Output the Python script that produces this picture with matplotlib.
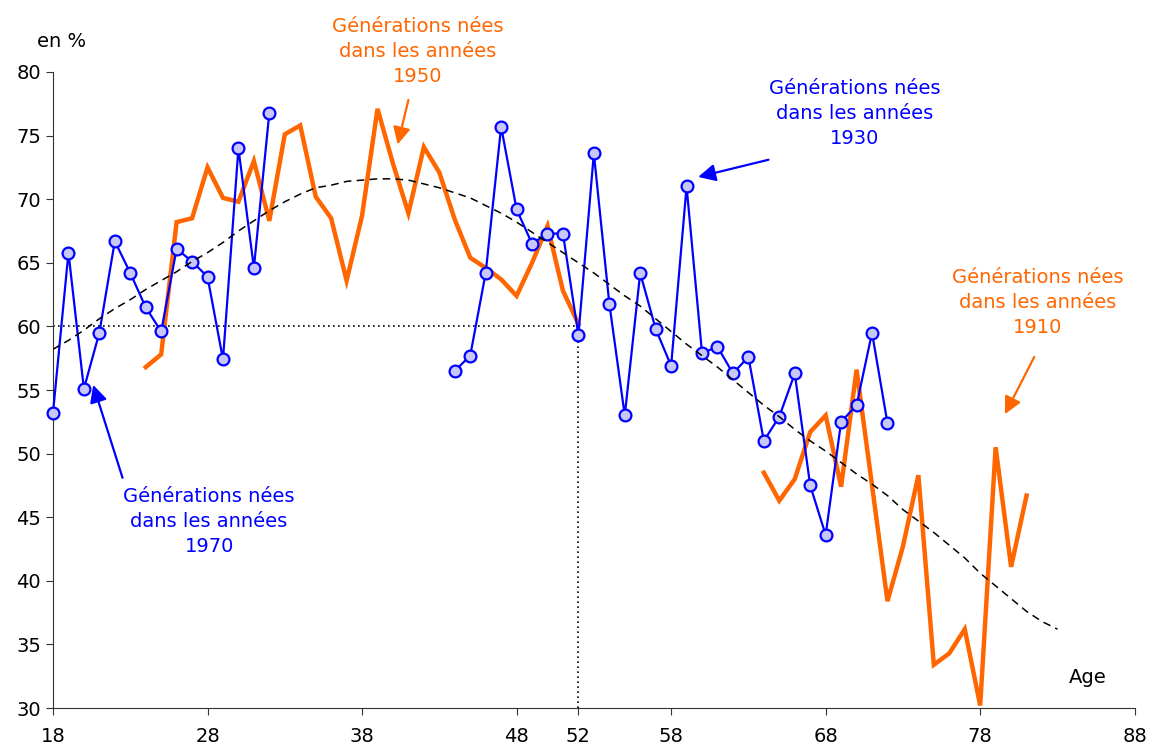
import numpy as np
import matplotlib
matplotlib.use("Agg")
import matplotlib.pyplot as plt

# ages and rates (NaN = no point)
ages = list(range(18, 84))

blue_rates = [53.2, 65.8, 55.1, 59.5, 66.7, 64.2, 61.5, 59.6, 66.1, 65.1,
              63.9, 57.4, 74.0, 64.6, 76.8,
              None, None, None, None, None, None, None, None, None, None, None,
              56.5, 57.7, 64.2, 75.7, 69.2, 66.5, 67.3, 67.3, 59.3, 73.6,
              61.8, 53.0, 64.2, 59.8, 56.9, 71.0, 57.9, 58.4, 56.3, 57.6,
              51.0, 52.9, 56.3, 47.5, 43.6, 52.5, 53.8, 59.5, 52.4]

orange_rates = [None] * 6 + [
    56.8, 57.8, 68.2, 68.5, 72.5, 70.1, 69.8, 73.0, 68.3, 75.1,
    75.8, 70.2, 68.5, 63.6, 68.7, 77.1, 72.8, 68.9, 74.1, 72.1,
    68.4, 65.4, 64.6, 63.7, 62.4, 65.0, 67.9, 62.8, 60.2,
    None, None, None, None, None, None, None, None, None, None, None,
    48.5, 46.3, 48.0, 51.7, 53.0, 47.4, 56.6, 47.5, 38.4, 42.7,
    48.3, 33.4, 34.3, 36.2, 30.2, 50.5, 41.1, 46.7]

trend = [58.2, 58.9, 59.7, 60.6, 61.4, 62.1, 62.9, 63.6, 64.3, 65.1,
         65.8, 66.6, 67.5, 68.3, 69.1, 69.8, 70.4, 70.9, 71.1, 71.4,
         71.5, 71.6, 71.6, 71.5, 71.2, 70.9, 70.5, 70.1, 69.5, 68.9,
         68.2, 67.4, 66.6, 65.8, 65.0, 64.2, 63.3, 62.4, 61.6, 60.6,
         59.6, 58.6, 57.7, 56.8, 55.8, 54.8, 53.8, 52.9, 51.9, 51.0,
         50.2, 49.3, 48.4, 47.6, 46.7, 45.6, 44.7, 43.8, 42.8, 41.8,
         40.6, 39.6, 38.6, 37.6, 36.8, 36.2]

xticks = [18, 28, 38, 48, 52, 58, 68, 78, 88]
yticks = [30, 35, 40, 45, 50, 55, 60, 65, 70, 75, 80]

BLUE = "#0000ff"
ORANGE = "#ff6600"


def pad(vals):
    vals = vals + [None] * (len(ages) - len(vals))
    return np.array([np.nan if v is None else v for v in vals], dtype=float)


fig = plt.figure(figsize=(11.52, 7.49), dpi=100)
ax = fig.add_axes([0.046, 0.0547, 0.939, 0.8492])

ax.plot(ages, pad(orange_rates), color=ORANGE, lw=3.2, zorder=2,
        solid_joinstyle="miter")
ax.plot(ages, pad(blue_rates), color=BLUE, lw=1.6, zorder=3,
        marker="o", markersize=8.5, markerfacecolor="#c8c8f8",
        markeredgecolor=BLUE, markeredgewidth=1.6, clip_on=False)
ax.plot(ages, pad(trend), color="black", lw=1.1, ls=(0, (5, 3.5)), zorder=4)

# reference lines at 60 % / 52 years
ax.plot([18, 52], [60, 60], color="black", lw=1.2, ls=(0, (1, 2)), zorder=1)
ax.plot([52, 52], [30, 60], color="black", lw=1.2, ls=(0, (1, 2)), zorder=1)

ax.set_xlim(18, 88)
ax.set_ylim(30, 80)
ax.set_xticks(xticks)
ax.set_yticks(yticks)
ax.tick_params(axis="both", labelsize=14, direction="out", length=5,
               color="#333333")
ax.tick_params(axis="x", pad=9)
for s in ["top", "right"]:
    ax.spines[s].set_visible(False)
for s in ["left", "bottom"]:
    ax.spines[s].set_color("#333333")

txt = "Générations nées\ndans les années\n"
labels = [
    ("1970", BLUE, (28.1, 44.7), (22.5, 48.1), (20.6, 55.4)),
    ("1950", ORANGE, (41.6, 81.6), (41.0, 77.8), (40.3, 74.3)),
    ("1930", BLUE, (69.9, 76.7), (64.3, 73.1), (59.75, 71.75)),
    ("1910", ORANGE, (81.7, 61.9), (81.5, 57.6), (79.6, 53.1)),
]
for year, col, tpos, tail, head in labels:
    ax.text(tpos[0], tpos[1], txt + year, color=col, fontsize=14,
            ha="center", va="center", linespacing=1.4, clip_on=False)
    ax.annotate("", xy=head, xytext=tail,
                arrowprops=dict(arrowstyle="-|>", color=col, lw=1.6,
                                mutation_scale=26, shrinkA=0, shrinkB=0))

ax.text(84.95, 32.4, "Age", fontsize=14, ha="center", va="center")
fig.text(0.032, 0.944, "en %", fontsize=14, ha="left", va="center")

fig.savefig("out.png", dpi=100)
